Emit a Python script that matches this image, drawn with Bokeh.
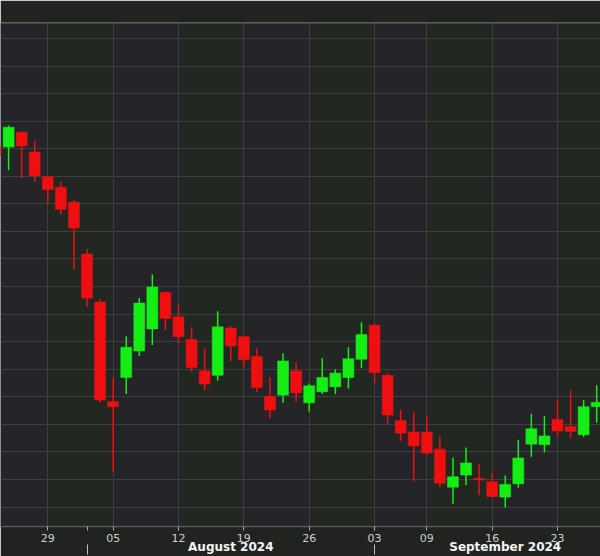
import pandas as pd
from bokeh.plotting import figure
from bokeh.models import (ColumnDataSource, Range1d, FixedTicker, SingleIntervalTicker,
                          LinearAxis, BoxAnnotation, Span)
from bokeh.embed import file_html
from bokeh.resources import INLINE

# ---- data (daily candles) ----
dates = ["2024-07-23", "2024-07-24", "2024-07-25", "2024-07-26", "2024-07-29", "2024-07-30",
         "2024-07-31", "2024-08-01", "2024-08-02", "2024-08-05", "2024-08-06", "2024-08-07",
         "2024-08-08", "2024-08-09", "2024-08-12", "2024-08-13", "2024-08-14", "2024-08-15",
         "2024-08-16", "2024-08-19", "2024-08-20", "2024-08-21", "2024-08-22", "2024-08-23",
         "2024-08-26", "2024-08-27", "2024-08-28", "2024-08-29", "2024-08-30", "2024-09-03",
         "2024-09-04", "2024-09-05", "2024-09-06", "2024-09-09", "2024-09-10", "2024-09-11",
         "2024-09-12", "2024-09-13", "2024-09-16", "2024-09-17", "2024-09-18", "2024-09-19",
         "2024-09-20", "2024-09-23", "2024-09-24", "2024-09-25", "2024-09-26"]
open_ = [4.254, 4.253, 4.280, 4.244, 4.199, 4.180, 4.153, 4.059, 3.972, 3.791, 3.835, 3.883,
         3.923, 3.989, 3.945, 3.904, 3.847, 3.839, 3.925, 3.909, 3.873, 3.801, 3.803, 3.847,
         3.789, 3.809, 3.818, 3.835, 3.868, 3.930, 3.839, 3.757, 3.736, 3.736, 3.705, 3.636,
         3.658, 3.652, 3.646, 3.618, 3.642, 3.714, 3.713, 3.759, 3.746, 3.731, 3.782]
high = [4.265, 4.292, 4.282, 4.265, 4.201, 4.190, 4.156, 4.068, 3.977, 3.834, 3.910, 3.979,
        4.022, 3.991, 3.968, 3.926, 3.888, 3.955, 3.928, 3.911, 3.888, 3.835, 3.879, 3.862,
        3.824, 3.870, 3.850, 3.890, 3.935, 3.933, 3.843, 3.776, 3.773, 3.764, 3.727, 3.690,
        3.708, 3.678, 3.662, 3.657, 3.722, 3.769, 3.765, 3.795, 3.812, 3.794, 3.821]
low = [4.229, 4.211, 4.196, 4.190, 4.151, 4.131, 4.032, 3.963, 3.789, 3.664, 3.805, 3.874,
       3.894, 3.921, 3.897, 3.845, 3.812, 3.829, 3.865, 3.853, 3.809, 3.761, 3.789, 3.791,
       3.773, 3.805, 3.805, 3.815, 3.852, 3.825, 3.752, 3.720, 3.647, 3.695, 3.636, 3.606,
       3.640, 3.622, 3.618, 3.599, 3.635, 3.691, 3.699, 3.729, 3.725, 3.727, 3.753]
close = [4.238, 4.289, 4.255, 4.201, 4.176, 4.140, 4.106, 3.979, 3.794, 3.782, 3.890, 3.970,
         3.999, 3.942, 3.909, 3.853, 3.823, 3.927, 3.892, 3.867, 3.817, 3.776, 3.865, 3.807,
         3.820, 3.835, 3.843, 3.869, 3.913, 3.844, 3.767, 3.734, 3.711, 3.698, 3.643, 3.655,
         3.680, 3.649, 3.619, 3.641, 3.689, 3.742, 3.729, 3.738, 3.737, 3.782, 3.790]

UP = "#14ee14"
DOWN = "#ee1010"

# ---- derived ----
dt = pd.to_datetime(dates)
idx = list(range(len(dates)))
weeks = list(dt.isocalendar().week)
week_starts = [i for i in idx[1:] if weeks[i] != weeks[i - 1]]
month_starts = [i for i in idx[1:] if dt[i].month != dt[i - 1].month]


def num(v):
    return int(v) if float(v).is_integer() else float(v)


month_centers = []
month_names = {}
for i in month_starts:
    n = len(pd.bdate_range(dt[i], dt[i] + pd.offsets.MonthEnd(0)))
    c = num(i + n / 2)
    month_centers.append(c)
    month_names[c] = dt[i].strftime("%B %Y")

day_labels = {i: dt[i].strftime("%d") for i in week_starts}

src = ColumnDataSource(dict(
    x=idx, open=open_, high=high, low=low, close=close,
    top=[max(o, c) for o, c in zip(open_, close)],
    bottom=[min(o, c) for o, c in zip(open_, close)],
    color=[UP if c >= o else DOWN for o, c in zip(open_, close)],
))

X0, X1 = 0.38, 46.29
Y0, Y1 = 3.5647, 4.479

p = figure(width=600, height=556, output_backend="svg", toolbar_location=None,
           x_range=Range1d(X0, X1), y_range=Range1d(Y0, Y1),
           y_axis_location=None, min_border_left=0, min_border_right=0,
           min_border_top=22, min_border_bottom=29)
p.background_fill_color = "#252428"
p.border_fill_color = "#202320"
p.outline_line_color = None

# alternating weekly bands
bounds = week_starts + [X1]
for k in range(0, len(week_starts), 2):
    p.add_layout(BoxAnnotation(left=bounds[k], right=bounds[k + 1], fill_color="#222722",
                               fill_alpha=1.0, line_color=None, level="image"))

# grids
p.xgrid.ticker = FixedTicker(ticks=week_starts)
p.xgrid.grid_line_color = "#3e3e41"
p.ygrid.ticker = SingleIntervalTicker(interval=0.05, num_minor_ticks=0)
p.ygrid.grid_line_color = "#3e3e41"

# top separator line
p.add_layout(Span(location=Y1, dimension="width", line_color="#63665f", line_width=2))

# candles
p.segment(x0="x", y0="high", x1="x", y1="low", color="color", line_width=1.5, source=src)
p.vbar(x="x", width=0.84, top="top", bottom="bottom", fill_color="color",
       line_color="color", line_width=0.5, source=src)

# day axis
ax = p.xaxis[0]
ax.ticker = FixedTicker(ticks=week_starts, minor_ticks=month_starts)
ax.major_label_overrides = day_labels
ax.axis_line_color = "#5a5a5a"
ax.axis_line_width = 1.5
ax.major_tick_line_color = "#a8a8a8"
ax.major_tick_out = 4
ax.major_tick_in = 0
ax.minor_tick_line_color = "#a8a8a8"
ax.minor_tick_out = 4
ax.minor_tick_in = 0
ax.major_label_standoff = 3
ax.major_label_text_font = "DejaVu Sans"
ax.major_label_text_font_size = "11px"
ax.major_label_text_color = "#d0d0d0"

# month axis
mx = LinearAxis(ticker=FixedTicker(ticks=month_centers, minor_ticks=month_starts),
                major_label_overrides=month_names)
mx.axis_line_color = None
mx.major_tick_line_color = None
mx.major_tick_out = 0
mx.major_tick_in = 0
mx.minor_tick_line_color = "#c0c0c0"
mx.minor_tick_out = 10
mx.minor_tick_in = 0
mx.major_label_standoff = -15
mx.major_label_text_font = "DejaVu Sans"
mx.major_label_text_font_style = "bold"
mx.major_label_text_font_size = "12px"
mx.major_label_text_color = "#f4f4f4"
p.add_layout(mx, "below")

open("out.html", "w").write(file_html(p, INLINE))
